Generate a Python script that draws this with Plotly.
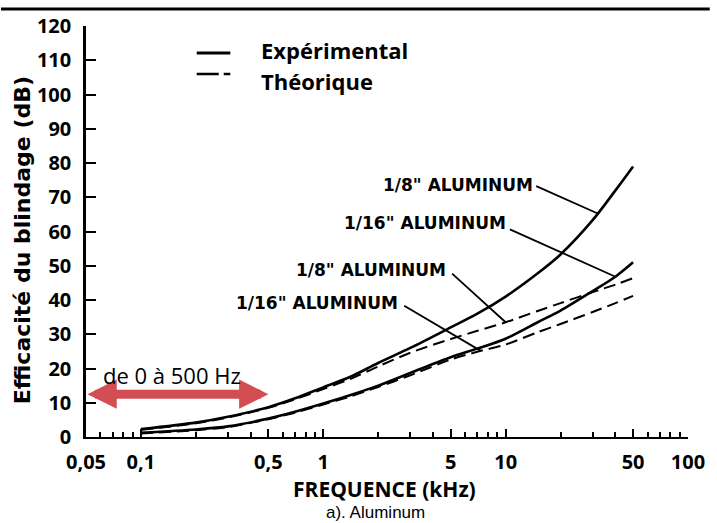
import numpy as np
import plotly.graph_objects as go

# ---------------- data ----------------
FREQ_KHZ = [0.1, 0.2, 0.3, 0.5, 0.7, 1, 1.4, 2, 3, 5, 7, 10, 15, 20, 30, 40, 50]
EXP_1_8 = [2.3, 4.2, 5.9, 8.7, 11.3, 14.5, 17.5, 21.6, 26.0, 32.0, 36.0, 41.0, 47.8, 53.3, 63.3, 72.0, 79.0]
EXP_1_16 = [1.2, 2.2, 3.1, 5.4, 7.4, 9.8, 12.2, 15.0, 18.7, 23.3, 25.8, 28.7, 33.5, 36.9, 42.6, 46.8, 51.0]
THEO_1_8 = [2.1, 4.0, 5.7, 8.5, 11.0, 14.0, 16.9, 20.6, 24.6, 28.6, 31.0, 33.5, 36.8, 39.1, 42.3, 44.5, 46.4]
THEO_1_16 = [1.0, 2.0, 2.9, 5.2, 7.1, 9.5, 11.8, 14.6, 18.0, 22.6, 24.9, 27.0, 30.6, 33.0, 36.5, 39.1, 41.2]

X_TICK_VALS = [0.05, 0.1, 0.5, 1, 5, 10, 50, 100]
X_TICK_TEXT = ["0,05", "0,1", "0,5", "1", "5", "10", "50", "100"]
Y_TICK_VALS = list(range(0, 121, 10))

LEGEND_LABELS = ["Expérimental", "Théorique"]
CURVE_LABELS = ['1/8" ALUMINUM', '1/16" ALUMINUM', '1/8" ALUMINUM', '1/16" ALUMINUM']
LEADER_FREQS = [32, 40, 10, 7.3]          # kHz where each leader touches its curve
RANGE_TEXT = "de 0 à 500 Hz"
RANGE_FROM_KHZ, RANGE_TO_KHZ, RANGE_DB = 0.05, 0.5, 12.5

X_TITLE = "FREQUENCE (kHz)"
Y_TITLE = "Efficacité du blindage (dB)"
CAPTION = "a). Aluminum"

# ---------------- layout geometry ----------------
W, H = 717, 523
ML, MR, MT, MB = 86, 22, 25, 86
PW, PH = W - ML - MR, H - MT - MB


def px(x):
    return (x - ML) / PW


def py(y):
    return (H - MB - y) / PH


def on_curve(f, series):
    return float(np.interp(np.log10(f), np.log10(FREQ_KHZ), series))


fig = go.Figure()

series = [
    ("Expérimental 1/8\"", EXP_1_8, "solid", 2.6),
    ("Expérimental 1/16\"", EXP_1_16, "solid", 2.6),
    ("Théorique 1/8\"", THEO_1_8, "12px,6px", 2.0),
    ("Théorique 1/16\"", THEO_1_16, "12px,6px", 2.0),
]
for name, ys, dash, w in series:
    fig.add_trace(go.Scatter(
        x=FREQ_KHZ, y=ys, mode="lines", name=name, showlegend=False,
        line=dict(color="black", width=w, dash=dash, shape="spline", smoothing=0.8),
    ))

minor_vals = []
for dec in [0.01, 0.1, 1, 10]:
    for m in range(1, 10):
        v = round(m * dec, 4)
        if 0.05 <= v <= 100 and v not in X_TICK_VALS:
            minor_vals.append(v)

fig.update_layout(
    width=W, height=H, autosize=False,
    margin=dict(l=ML, r=MR, t=MT, b=MB),
    paper_bgcolor="white", plot_bgcolor="white",
    showlegend=False,
    xaxis=dict(
        type="log", range=[np.log10(0.05), np.log10(100)],
        showgrid=False, zeroline=False, showline=True, linecolor="black", linewidth=2,
        tickmode="array", tickvals=X_TICK_VALS, ticktext=X_TICK_TEXT,
        ticks="inside", ticklen=8, tickwidth=2, tickcolor="black",
        minor=dict(tickmode="array", tickvals=minor_vals, ticks="inside",
                   ticklen=5, tickwidth=1.5, tickcolor="black"),
        tickfont=dict(family="Open Sans", size=20, color="black", weight="bold"),
        ticklabelstandoff=6,
    ),
    yaxis=dict(
        range=[0, 120], showgrid=False, zeroline=False, showline=True,
        linecolor="black", linewidth=2.5,
        tickmode="array", tickvals=Y_TICK_VALS,
        ticks="inside", ticklen=10, tickwidth=2, tickcolor="black",
        tickfont=dict(family="Open Sans", size=20, color="black", weight="bold"),
        ticklabelstandoff=8,
    ),
)

annotations = []
shapes = []

# scan border line at the very top
shapes.append(dict(type="line", xref="paper", yref="paper",
                   x0=px(0), x1=px(W), y0=py(8), y1=py(8),
                   line=dict(color="black", width=3)))

# legend samples
shapes.append(dict(type="line", xref="paper", yref="paper",
                   x0=px(198), x1=px(232), y0=py(52), y1=py(52),
                   line=dict(color="black", width=3)))
shapes.append(dict(type="line", xref="paper", yref="paper",
                   x0=px(198), x1=px(232), y0=py(73), y1=py(73),
                   line=dict(color="black", width=2.5, dash="22px,5px")))
for txt, yc in zip(LEGEND_LABELS, [49, 80]):
    annotations.append(dict(text=txt, xref="paper", yref="paper", x=px(261), y=py(yc),
                            xanchor="left", yanchor="middle", showarrow=False,
                            font=dict(family="Open Sans", size=22, color="black", weight="bold")))

# curve labels with leader lines
curve_for_label = [EXP_1_8, EXP_1_16, THEO_1_8, THEO_1_16]
leader_offsets = [(-63, -28), (-107, -48), (-55, -50), (-78, -46)]
text_offsets = [(-63, 29), (-107, 54), (-58, 52), (-81, 48)]
for lbl, f, ys, (ax, ay), (xs, ys_) in zip(CURVE_LABELS, LEADER_FREQS, curve_for_label,
                                         leader_offsets, text_offsets):
    yv = on_curve(f, ys)
    annotations.append(dict(text="", x=np.log10(f), y=yv, xref="x", yref="y",
                            showarrow=True, arrowhead=0, arrowwidth=1.8, arrowcolor="black",
                            ax=ax, ay=ay, standoff=0))
    annotations.append(dict(text=lbl, x=np.log10(f), y=yv, xref="x", yref="y",
                            showarrow=False, xanchor="right", yanchor="middle",
                            xshift=xs, yshift=ys_,
                            font=dict(family="DejaVu Sans", size=17, color="black", weight="bold")))

# red double arrow (0 to 500 Hz)
annotations.append(dict(text="", x=np.log10(RANGE_TO_KHZ), y=RANGE_DB, xref="x", yref="y",
                        ax=np.log10(RANGE_FROM_KHZ), ay=RANGE_DB, axref="x", ayref="y",
                        showarrow=True, arrowhead=2, startarrowhead=2, arrowside="end+start",
                        arrowsize=0.65, startarrowsize=0.65, arrowwidth=9,
                        arrowcolor="#d24e52", standoff=0, startstandoff=0))
annotations.append(dict(text=RANGE_TEXT, xref="paper", yref="paper", x=px(101), y=py(375),
                        xanchor="left", yanchor="middle", showarrow=False,
                        font=dict(family="Open Sans", size=22, color="black")))

# axis titles and caption
annotations.append(dict(text=X_TITLE, xref="paper", yref="paper", x=px(388), y=py(489),
                        xanchor="center", yanchor="middle", showarrow=False,
                        font=dict(family="Open Sans", size=21, color="black", weight="bold")))
annotations.append(dict(text=CAPTION, xref="paper", yref="paper", x=px(379), y=py(513),
                        xanchor="center", yanchor="middle", showarrow=False,
                        font=dict(family="Liberation Sans", size=17, color="black")))
annotations.append(dict(text=Y_TITLE, xref="paper", yref="paper", x=px(22), y=py(240),
                        xanchor="center", yanchor="middle", showarrow=False, textangle=-90,
                        font=dict(family="DejaVu Sans", size=22, color="black", weight="bold")))

fig.update_layout(annotations=annotations, shapes=shapes)
fig.write_html("out.html", config={"displayModeBar": False},
               post_script="document.body.style.margin='0';document.body.style.overflow='hidden';")
